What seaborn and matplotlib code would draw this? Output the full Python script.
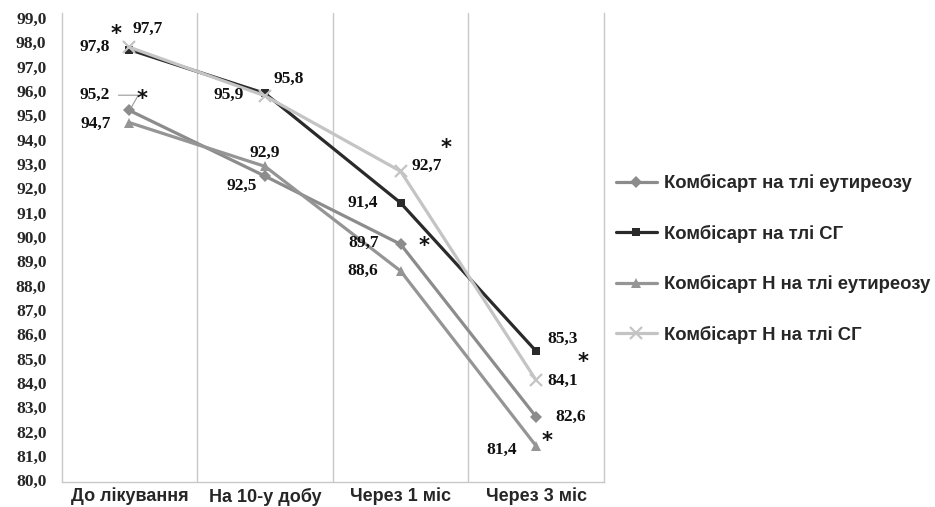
import pandas as pd
import matplotlib
matplotlib.use("Agg")
import matplotlib.pyplot as plt
import seaborn as sns

# data
periods = ["До лікування", "На 10-у добу", "Через 1 міс", "Через 3 міс"]
series_names = [
    "Комбісарт на тлі еутиреозу",
    "Комбісарт на тлі СГ",
    "Комбісарт Н на тлі еутиреозу",
    "Комбісарт Н на тлі СГ",
]
kombisart_eu = [95.2, 92.5, 89.7, 82.6]
kombisart_sg = [97.7, 95.9, 91.4, 85.3]
kombisart_h_eu = [94.7, 92.9, 88.6, 81.4]
kombisart_h_sg = [97.8, 95.8, 92.7, 84.1]
values = [kombisart_eu, kombisart_sg, kombisart_h_eu, kombisart_h_sg]

# significance marks: (series, period)
stars = [(1, 0), (0, 0), (3, 2), (0, 2), (3, 3), (2, 3)]

# styling
colors = ["#8c8c8c", "#2a2a2a", "#959595", "#c4c4c4"]
markers = ["D", "s", "^", "X"]
msizes = [6, 6, 7, 8]
# label offsets in points for each series / period
label_off = [
    [(-25, 11), (-17, -7), (-27, 1), (25, 0)],
    [(13, 15), (-26, -1), (-27, 0), (19, 9)],
    [(-24, -1), (0, 10), (-27, 0), (-25, -3)],
    [(-25, 0), (17, 12), (19, 4), (19, 0)],
]
star_off = [(-10, 11), (9, 8), (33, 17), (17, -1), (34, 13), (8, 4)]

rows = []
for name, vals in zip(series_names, values):
    for i, v in enumerate(vals):
        rows.append({"period": i, "value": v, "series": name})
df = pd.DataFrame(rows)

sns.set_style("white")
plt.rcParams["font.family"] = ["DejaVu Sans"]

fig = plt.figure(figsize=(9.35, 5.07), dpi=100)
ax = fig.add_axes([0.066, 0.049, 0.580, 0.925])

sns.lineplot(data=df, x="period", y="value", hue="series", style="series",
             hue_order=series_names, style_order=series_names,
             palette=colors, markers=markers, dashes=False, linewidth=2.3,
             ax=ax, legend=True)


def restyle(line, ms, c):
    line.set_markersize(ms)
    line.set_markeredgecolor(c)
    if line.get_marker() == "X":
        line.set_marker("x")
        line.set_markeredgewidth(1.6)
    else:
        line.set_markeredgewidth(0)


for line, ms, c in zip(ax.lines, msizes, colors):
    restyle(line, ms, c)

# data labels
serif = dict(family="Liberation Serif", weight="bold", size=12.5, color="#111111")
for s, vals in enumerate(values):
    for i, v in enumerate(vals):
        dx, dy = label_off[s][i]
        ax.annotate(f"{v:.1f}".replace(".", ","), (i, v), xytext=(dx, dy),
                    textcoords="offset points", ha="center", va="center", **serif)

# leader line for 95,2
ax.annotate("", (0, kombisart_eu[0]), xytext=(-10, 11), textcoords="offset points",
            arrowprops=dict(arrowstyle="-", color="#999999", lw=0.8,
                            connectionstyle="angle,angleA=0,angleB=60"))

for (s, i), (dx, dy) in zip(stars, star_off):
    ax.annotate("*", (i, values[s][i]), xytext=(dx, dy), textcoords="offset points",
                ha="center", va="center", family="DejaVu Sans", weight="bold",
                size=15, color="#111111")

ax.set_xlim(-0.5, 3.5)
ax.set_ylim(79.92, 99.2)
ax.set_xticks(range(len(periods)))
ax.set_xticklabels(periods, family="Liberation Sans", weight="bold", size=13)
yt = list(range(80, 100))
ax.set_yticks(yt)
ax.set_yticklabels([f"{t:.1f}".replace(".", ",") for t in yt],
                   family="Liberation Serif", weight="bold", size=12.5)
ax.tick_params(axis="both", length=0)
ax.tick_params(axis="y", pad=11)
ax.tick_params(axis="x", pad=4)
ax.set_xlabel("")
ax.set_ylabel("")

for x in [0.5, 1.5, 2.5]:
    ax.axvline(x, color="#c8c8c8", lw=1, zorder=0)
for side in ["left", "right", "bottom"]:
    ax.spines[side].set_color("#c8c8c8")
    ax.spines[side].set_linewidth(1)
ax.spines["top"].set_visible(False)

leg = ax.legend(loc="center left", bbox_to_anchor=(0.641, 0.489),
                bbox_transform=fig.transFigure, frameon=False,
                labelspacing=1.76, handlelength=2.2, handletextpad=0.4,
                prop=dict(family="Liberation Sans", weight="bold", size=13.3))
for h, ms, c in zip(leg.legend_handles, msizes, colors):
    restyle(h, ms, c)
    h.set_linewidth(2.3)

fig.savefig("out.png", dpi=100)
